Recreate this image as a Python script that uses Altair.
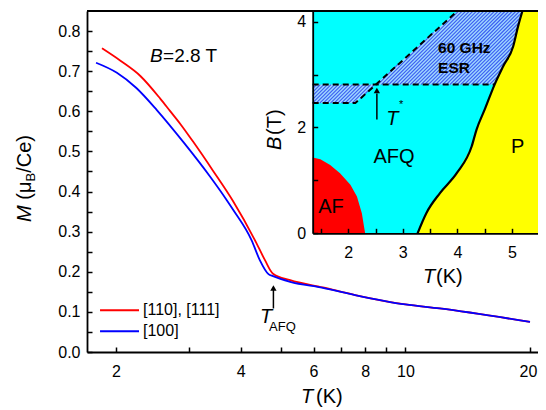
import altair as alt
import numpy as np
import pandas as pd

FONT = "Liberation Sans"

# ---------------- main panel: M(T) at B = 2.8 T ----------------
T_110 = [1.85, 2.05, 2.29, 2.56, 2.70, 2.86, 3.07, 3.43, 3.83, 4.33, 4.58, 4.79,
         5.27, 6.32, 7.56, 10.0, 12.1, 20.0]
M_110 = [0.757, 0.726, 0.688, 0.631, 0.601, 0.5685, 0.5245, 0.452, 0.377, 0.279, 0.229, 0.195,
         0.179, 0.161, 0.142, 0.1185, 0.1085, 0.075]
T_100 = [1.79, 2.01, 2.24, 2.51, 2.91, 3.37, 3.70, 3.84, 4.25, 4.45, 4.67, 4.79,
         5.27, 6.32, 7.56, 10.0, 12.1, 20.0]
M_100 = [0.721, 0.696, 0.658, 0.603, 0.523, 0.438, 0.379, 0.354, 0.279, 0.229, 0.194, 0.189,
         0.175, 0.160, 0.142, 0.1185, 0.1085, 0.075]
series_names = ["[110], [111]", "[100]"]
series_colors = ["#ff0000", "#0000ff"]

main_x_ticks = [2, 3, 4, 5, 6, 7, 8, 9, 10, 20]
main_y_ticks = [0.0, 0.05, 0.1, 0.15, 0.2, 0.25, 0.3, 0.35, 0.4, 0.45, 0.5, 0.55,
                0.6, 0.65, 0.7, 0.75, 0.8]

# ---------------- inset: B-T phase diagram ----------------
AF_T = [1.35, 1.49, 1.67, 1.85, 2.04, 2.16, 2.25, 2.29, 2.31]
AF_B = [1.43, 1.40, 1.29, 1.135, 0.915, 0.693, 0.379, 0.125, 0.0]
P_T = [3.27, 3.43, 3.68, 3.99, 4.26, 4.35, 4.50, 4.68, 4.84, 5.02, 5.11, 5.19]
P_B = [0.0, 0.38, 0.76, 1.14, 1.64, 1.96, 2.34, 2.81, 3.16, 3.53, 3.91, 4.2]
ESR1_T = [1.35, 2.13, 2.50]
ESR1_lo = [2.46, 2.46, 2.81]
ESR1_hi = [2.81, 2.81, 2.81]
ESR2_T = [2.50, 4.0, 4.675, 4.84, 5.02, 5.11, 5.19]
ESR2_lo = [2.81, 2.81, 2.81, 3.16, 3.53, 3.91, 4.2]
ESR2_hi = [2.81, 4.2, 4.2, 4.2, 4.2, 4.2, 4.2]
DASH1_T = [1.35, 2.13, 4.0]
DASH1_B = [2.46, 2.46, 4.2]
DASH2_T = [1.35, 4.675]
DASH2_B = [2.81, 2.81]
inset_x_ticks = [1.5, 2, 2.5, 3, 3.5, 4, 4.5, 5]
inset_y_ticks = [0, 1, 2, 3, 4]

# ---------------- layout ----------------
W, H = 451, 341
MX_DOM = [1.702, 20.91]
MY_DOM = [0, 0.85]
IX_DOM = [1.35, 5.475]
IY_DOM = [0, 4.2]
IX_RANGE = [225.7, W]
IY_RANGE = [222.3, 0]

xs_main = alt.Scale(type="log", domain=MX_DOM, range=[0, W], nice=False)
ys_main = alt.Scale(domain=MY_DOM, range=[H, 0], nice=False, zero=False)
xs_in = alt.Scale(domain=IX_DOM, range=IX_RANGE, nice=False, zero=False)
ys_in = alt.Scale(domain=IY_DOM, range=IY_RANGE, nice=False, zero=False)

axis_common = dict(title=None, grid=False, labelFont=FONT, labelFontSize=16, labelColor="black",
                   domainColor="black", domainWidth=1.8, tickColor="black", tickWidth=1.5,
                   labelFlush=False, labelOverlap=False, zindex=1)

main_x_axis = alt.Axis(values=main_x_ticks, orient="bottom", tickSize={"expr": "-5"}, labelPadding=16,
                       labelExpr="(datum.value==3||datum.value==5||datum.value==7||datum.value==9) ? '' : format(datum.value, 'd')",
                       labelOffset={"condition": {"test": "datum.value == 20", "value": -2}, "value": 0},
                       **axis_common)
main_y_axis = alt.Axis(values=main_y_ticks, orient="left", tickSize={"expr": "-5"}, labelPadding=12,
                       labelExpr="round(datum.value*20) % 2 == 0 ? format(datum.value, '.1f') : ''",
                       **axis_common)
inset_x_axis = alt.Axis(values=inset_x_ticks, orient="bottom", offset=-(H - IY_RANGE[0]),
                        tickSize={"expr": "-5"}, labelPadding=16,
                        labelExpr="datum.value % 1 == 0 ? format(datum.value, 'd') : ''",
                        **axis_common)
inset_y_axis = alt.Axis(values=inset_y_ticks, orient="left", offset=-IX_RANGE[0],
                        tickSize={"expr": "-5"}, labelPadding=12,
                        labelExpr="datum.value % 2 == 0 ? format(datum.value, 'd') : ''",
                        **axis_common)


def dtext(x, y, text, xs, ys, **mk):
    d = pd.DataFrame({"x": [x], "y": [y], "t": [text]})
    opts = dict(font=FONT, color="black", align="left", baseline="alphabetic")
    opts.update(mk)
    return alt.Chart(d).mark_text(**opts).encode(
        x=alt.X("x:Q", scale=xs, axis=None), y=alt.Y("y:Q", scale=ys, axis=None), text="t:N")


def ptext(px, py, text, **mk):
    d = pd.DataFrame({"t": [text]})
    opts = dict(font=FONT, color="black", align="left", baseline="alphabetic")
    opts.update(mk)
    return alt.Chart(d).mark_text(**opts).encode(x=alt.value(px), y=alt.value(py), text="t:N")


# ---------------- main layers ----------------
main_df = pd.concat([
    pd.DataFrame({"T": T_110, "M": M_110, "s": series_names[0]}),
    pd.DataFrame({"T": T_100, "M": M_100, "s": series_names[1]}),
])
lines = alt.Chart(main_df).mark_line(strokeWidth=1.8, interpolate="monotone").encode(
    x=alt.X("T:Q", scale=xs_main, axis=main_x_axis),
    y=alt.Y("M:Q", scale=ys_main, axis=main_y_axis),
    color=alt.Color("s:N", scale=alt.Scale(domain=series_names, range=series_colors), legend=None),
    detail="s:N",
)

leg_df = pd.DataFrame({"x1": [1.83, 1.83], "x2": [2.273, 2.273], "y": [0.104, 0.0518],
                       "s": series_names, "lx": [2.324, 2.324]})
leg_lines = alt.Chart(leg_df).mark_rule(strokeWidth=2).encode(
    x=alt.X("x1:Q", scale=xs_main, axis=None), x2="x2:Q",
    y=alt.Y("y:Q", scale=ys_main, axis=None),
    color=alt.Color("s:N", scale=alt.Scale(domain=series_names, range=series_colors), legend=None))
leg_text = alt.Chart(leg_df).mark_text(font=FONT, fontSize=16, align="left", baseline="middle",
                                       color="black").encode(
    x=alt.X("lx:Q", scale=xs_main, axis=None), y=alt.Y("y:Q", scale=ys_main, axis=None), text="s:N")

arrow_df = pd.DataFrame({"x": [4.80], "y1": [0.1085], "y2": [0.157]})
afq_arrow = alt.Chart(arrow_df).mark_rule(strokeWidth=1.5, color="black").encode(
    x=alt.X("x:Q", scale=xs_main, axis=None), y=alt.Y("y1:Q", scale=ys_main, axis=None), y2="y2:Q")
afq_head = alt.Chart(pd.DataFrame({"x": [4.80], "y": [0.1595]})).mark_point(
    shape="triangle-up", filled=True, color="black", size=40, opacity=1).encode(
    x=alt.X("x:Q", scale=xs_main, axis=None), y=alt.Y("y:Q", scale=ys_main, axis=None))

main_parts = [
    lines, leg_lines, leg_text, afq_arrow, afq_head,
    dtext(2.417, 0.724, "B", xs_main, ys_main, fontSize=19, fontStyle="italic"),
    dtext(2.598, 0.724, "=2.8 T", xs_main, ys_main, fontSize=19),
    dtext(4.455, 0.072, "T", xs_main, ys_main, fontSize=20, fontStyle="italic"),
    dtext(4.685, 0.052, "AFQ", xs_main, ys_main, fontSize=13),
    # main axis titles
    ptext(214, 392, "T", fontSize=20, fontStyle="italic"),
    ptext(229, 392, "(K)", fontSize=20),
    ptext(-56, 211, "M", fontSize=20, fontStyle="italic", angle=270),
    ptext(-56, 188.7, "(\u03bc", fontSize=20, angle=270),
    ptext(-52, 170.5, "B", fontSize=13, angle=270),
    ptext(-56, 161.8, "/Ce)", fontSize=20, angle=270),
    # inset axis titles
    ptext(336, 272, "T", fontSize=20, fontStyle="italic"),
    ptext(349, 272, "(K)", fontSize=20),
    ptext(194, 139, "B", fontSize=20, fontStyle="italic", angle=270),
    ptext(194, 124, "(T)", fontSize=20, angle=270),
]

# ---------------- inset layers ----------------
kx = (IX_RANGE[1] - IX_RANGE[0]) / (IX_DOM[1] - IX_DOM[0])
ky = (IY_RANGE[0] - IY_RANGE[1]) / (IY_DOM[1] - IY_DOM[0])


def hatch(Ts, lo, hi, spacing=3.6):
    Tg = np.linspace(min(Ts), max(Ts), 4000)
    lo_g = np.interp(Tg, Ts, lo)
    hi_g = np.interp(Tg, Ts, hi)
    u = (Tg - IX_DOM[0]) * kx
    rows = []
    for c in np.arange(-260, 260, spacing):
        Bl = (u - c) / ky
        m = (Bl >= lo_g) & (Bl <= hi_g)
        idx = np.where(m)[0]
        if len(idx) >= 2:
            rows.append({"t1": Tg[idx[0]], "b1": Bl[idx[0]], "t2": Tg[idx[-1]], "b2": Bl[idx[-1]]})
    return rows


bg = alt.Chart(pd.DataFrame({"x1": [IX_DOM[0]], "x2": [IX_DOM[1]], "y1": [IY_DOM[0]], "y2": [IY_DOM[1]]})
               ).mark_rect(color="#00ffff").encode(
    x=alt.X("x1:Q", scale=xs_in, axis=inset_x_axis), x2="x2:Q",
    y=alt.Y("y1:Q", scale=ys_in, axis=inset_y_axis), y2="y2:Q")

p_df = pd.DataFrame({"T": P_T + [IX_DOM[1]], "B": P_B + [IY_DOM[1]]})
p_area = alt.Chart(p_df).mark_area(color="#ffff00", opacity=1).encode(
    x=alt.X("T:Q", scale=xs_in, axis=None), y=alt.Y("B:Q", scale=ys_in, axis=None), y2=alt.datum(0))
af_area = alt.Chart(pd.DataFrame({"T": AF_T, "B": AF_B})).mark_area(color="#ff0000", opacity=1).encode(
    x=alt.X("T:Q", scale=xs_in, axis=None), y=alt.Y("B:Q", scale=ys_in, axis=None), y2=alt.datum(0))

esr_df = pd.concat([
    pd.DataFrame({"T": ESR1_T, "lo": ESR1_lo, "hi": ESR1_hi, "r": "a"}),
    pd.DataFrame({"T": ESR2_T, "lo": ESR2_lo, "hi": ESR2_hi, "r": "b"}),
])
esr_area = alt.Chart(esr_df).mark_area(color="#9fd6ff", opacity=1).encode(
    x=alt.X("T:Q", scale=xs_in, axis=None), y=alt.Y("lo:Q", scale=ys_in, axis=None), y2="hi:Q",
    detail="r:N")
hatch_df = pd.DataFrame(hatch(ESR1_T, ESR1_lo, ESR1_hi) + hatch(ESR2_T, ESR2_lo, ESR2_hi))
hatch_rules = alt.Chart(hatch_df).mark_rule(color="#3a5cf2", strokeWidth=1.1).encode(
    x=alt.X("t1:Q", scale=xs_in, axis=None), y=alt.Y("b1:Q", scale=ys_in, axis=None),
    x2="t2:Q", y2="b2:Q")

dash_df = pd.concat([
    pd.DataFrame({"T": DASH1_T, "B": DASH1_B, "k": "d1"}),
    pd.DataFrame({"T": DASH2_T, "B": DASH2_B, "k": "d2"}),
])
dashes = alt.Chart(dash_df).mark_line(color="black", strokeWidth=2, strokeDash=[6, 4]).encode(
    x=alt.X("T:Q", scale=xs_in, axis=None), y=alt.Y("B:Q", scale=ys_in, axis=None), detail="k:N")
p_line = alt.Chart(pd.DataFrame({"T": P_T, "B": P_B})).mark_line(
    color="black", strokeWidth=2.2, interpolate="monotone").encode(
    x=alt.X("T:Q", scale=xs_in, axis=None), y=alt.Y("B:Q", scale=ys_in, axis=None))

tstar_arrow = alt.Chart(pd.DataFrame({"x": [2.525], "y1": [2.15], "y2": [2.64]})).mark_rule(
    strokeWidth=1.5, color="black").encode(
    x=alt.X("x:Q", scale=xs_in, axis=None), y=alt.Y("y1:Q", scale=ys_in, axis=None), y2="y2:Q")
tstar_head = alt.Chart(pd.DataFrame({"x": [2.525], "y": [2.70]})).mark_point(
    shape="triangle-up", filled=True, color="black", size=40, opacity=1).encode(
    x=alt.X("x:Q", scale=xs_in, axis=None), y=alt.Y("y:Q", scale=ys_in, axis=None))

top_border = alt.Chart(pd.DataFrame({"y": [IY_DOM[1]]})).mark_rule(color="black", strokeWidth=1.8).encode(
    y=alt.Y("y:Q", scale=ys_in, axis=None))

inset_parts = [
    bg, p_area, af_area, esr_area, hatch_rules, dashes, p_line, tstar_arrow, tstar_head,
    dtext(2.84, 1.33, "AFQ", xs_in, ys_in, fontSize=20, align="center"),
    dtext(1.45, 0.385, "AF", xs_in, ys_in, fontSize=20),
    dtext(4.98, 1.52, "P", xs_in, ys_in, fontSize=20),
    dtext(3.645, 3.415, "60 GHz", xs_in, ys_in, fontSize=15.5, fontWeight="bold"),
    dtext(3.645, 3.035, "ESR", xs_in, ys_in, fontSize=15.5, fontWeight="bold"),
    dtext(2.695, 2.05, "T", xs_in, ys_in, fontSize=20, fontStyle="italic"),
    dtext(2.93, 2.37, "*", xs_in, ys_in, fontSize=11),
    top_border,
]

chart = alt.layer(*main_parts, *inset_parts).resolve_scale(
    x="independent", y="independent"
).properties(
    width=W, height=H,
    autosize=alt.AutoSizeParams(type="none"),
    padding={"left": 79, "top": 3, "right": 0, "bottom": 55},
).configure_view(stroke=None)

chart.save("out.html", embed_options={"renderer": "svg", "actions": False})
